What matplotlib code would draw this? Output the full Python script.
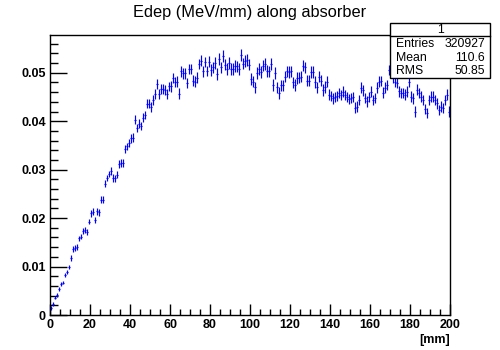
import numpy as np
import matplotlib
matplotlib.use("Agg")
import matplotlib.pyplot as plt
from matplotlib.ticker import MultipleLocator, FormatStrFormatter

# bin edges 0..200 mm, 1 mm per bin
x_lo = 0
x_hi = 200
n_bins = 200

# Edep per bin
edep = [
    0.0015, 0.0023, 0.0036, 0.0041, 0.0054, 0.0064, 0.0067, 0.0083, 0.0089, 0.0099,
    0.0118, 0.0136, 0.0139, 0.0140, 0.0158, 0.0162, 0.0174, 0.0175, 0.0171, 0.0193,
    0.0210, 0.0213, 0.0196, 0.0214, 0.0212, 0.0238, 0.0238, 0.0271, 0.0283, 0.0291,
    0.0298, 0.0283, 0.0282, 0.0290, 0.0312, 0.0313, 0.0314, 0.0342, 0.0348, 0.0355,
    0.0365, 0.0366, 0.0403, 0.0386, 0.0395, 0.0390, 0.0407, 0.0413, 0.0436, 0.0436,
    0.0430, 0.0444, 0.0456, 0.0477, 0.0456, 0.0466, 0.0466, 0.0465, 0.0456, 0.0472,
    0.0472, 0.0489, 0.0481, 0.0482, 0.0457, 0.0503, 0.0499, 0.0499, 0.0479, 0.0508,
    0.0508, 0.0484, 0.0482, 0.0490, 0.0518, 0.0525, 0.0503, 0.0522, 0.0504, 0.0523,
    0.0506, 0.0511, 0.0520, 0.0497, 0.0528, 0.0511, 0.0535, 0.0517, 0.0508, 0.0520,
    0.0508, 0.0508, 0.0514, 0.0513, 0.0508, 0.0537, 0.0519, 0.0524, 0.0527, 0.0517,
    0.0487, 0.0482, 0.0470, 0.0499, 0.0508, 0.0502, 0.0515, 0.0518, 0.0504, 0.0503,
    0.0518, 0.0475, 0.0499, 0.0470, 0.0458, 0.0474, 0.0474, 0.0492, 0.0503, 0.0502,
    0.0503, 0.0480, 0.0475, 0.0489, 0.0490, 0.0492, 0.0515, 0.0511, 0.0484, 0.0484,
    0.0501, 0.0501, 0.0481, 0.0470, 0.0492, 0.0484, 0.0465, 0.0471, 0.0482, 0.0455,
    0.0452, 0.0447, 0.0450, 0.0452, 0.0458, 0.0454, 0.0461, 0.0454, 0.0450, 0.0446,
    0.0448, 0.0450, 0.0428, 0.0430, 0.0444, 0.0469, 0.0464, 0.0448, 0.0441, 0.0450,
    0.0461, 0.0444, 0.0448, 0.0469, 0.0482, 0.0483, 0.0459, 0.0469, 0.0475, 0.0506,
    0.0500, 0.0490, 0.0482, 0.0479, 0.0462, 0.0458, 0.0458, 0.0455, 0.0461, 0.0482,
    0.0451, 0.0447, 0.0420, 0.0465, 0.0458, 0.0451, 0.0444, 0.0425, 0.0417, 0.0444,
    0.0451, 0.0451, 0.0444, 0.0437, 0.0423, 0.0430, 0.0427, 0.0444, 0.0455, 0.0420,
]

# error bar half-heights, read per block of 10 bins
err_blocks = [0.0004, 0.0006, 0.0007, 0.0008, 0.0009, 0.0010, 0.0011, 0.0011, 0.0012, 0.0012,
              0.0012, 0.0012, 0.0012, 0.0012, 0.0011, 0.0011, 0.0011, 0.0011, 0.0011, 0.0011]

title = "Edep (MeV/mm) along absorber"
stats_name = "1"
stats_rows = [("Entries", "320927"), ("Mean", "110.6"), ("RMS", "50.85")]

edges = np.linspace(x_lo, x_hi, n_bins + 1)
centers = 0.5 * (edges[:-1] + edges[1:])
half_w = 0.5 * (edges[1] - edges[0])
errs = np.repeat(err_blocks, 10)

plt.rcParams['font.family'] = ['Liberation Sans', 'DejaVu Sans']

fig = plt.figure(figsize=(5, 3.5), dpi=100)
ax = fig.add_axes([0.1, 0.1, 0.8, 0.8])

ax.errorbar(centers, edep, xerr=half_w, yerr=errs, fmt='none',
            ecolor='#0000ff', elinewidth=0.85, capsize=0)

ax.set_xlim(x_lo, x_hi)
ax.set_ylim(0, 0.0578)

ax.xaxis.set_major_locator(MultipleLocator(20))
ax.xaxis.set_minor_locator(MultipleLocator(5))
ax.yaxis.set_major_locator(MultipleLocator(0.01))
ax.yaxis.set_minor_locator(MultipleLocator(0.002))
ax.xaxis.set_major_formatter(FormatStrFormatter('%g'))
ax.yaxis.set_major_formatter(FormatStrFormatter('%g'))

ax.tick_params(axis='both', which='both', direction='in', top=False, right=False,
               labelsize=9, width=1, color='black')
ax.tick_params(axis='x', which='major', length=8, pad=3)
ax.tick_params(axis='x', which='minor', length=4)
ax.tick_params(axis='y', which='major', length=12, pad=3)
ax.tick_params(axis='y', which='minor', length=6)
for lab in ax.get_xticklabels() + ax.get_yticklabels():
    lab.set_fontweight('bold')

for sp in ax.spines.values():
    sp.set_linewidth(1)

fig.text(0.5, 0.963, title, ha='center', va='center', fontsize=11.8)
fig.text(0.9, 0.028, "[mm]", ha='right', va='center', fontsize=9, fontweight='bold')

# stats box
bx0, bx1 = 0.78, 0.98
by0, by1 = 0.776, 0.935
fig.patches.append(plt.Rectangle((bx0, by0), bx1 - bx0, by1 - by0, transform=fig.transFigure,
                                 facecolor='white', edgecolor='black', linewidth=1, zorder=5))
fig.lines.append(plt.Line2D([bx0, bx1], [0.898, 0.898], transform=fig.transFigure,
                            color='black', linewidth=1, zorder=6))
fig.text(0.5 * (bx0 + bx1), 0.915, stats_name, ha='center', va='center', fontsize=8.8, zorder=7)
row_y = [0.873, 0.834, 0.796]
for (k, v), yy in zip(stats_rows, row_y):
    fig.text(bx0 + 0.012, yy, k, ha='left', va='center', fontsize=8.8, zorder=7)
    fig.text(bx1 - 0.01, yy, v, ha='right', va='center', fontsize=8.8, zorder=7)

fig.savefig("out.png", dpi=100)
